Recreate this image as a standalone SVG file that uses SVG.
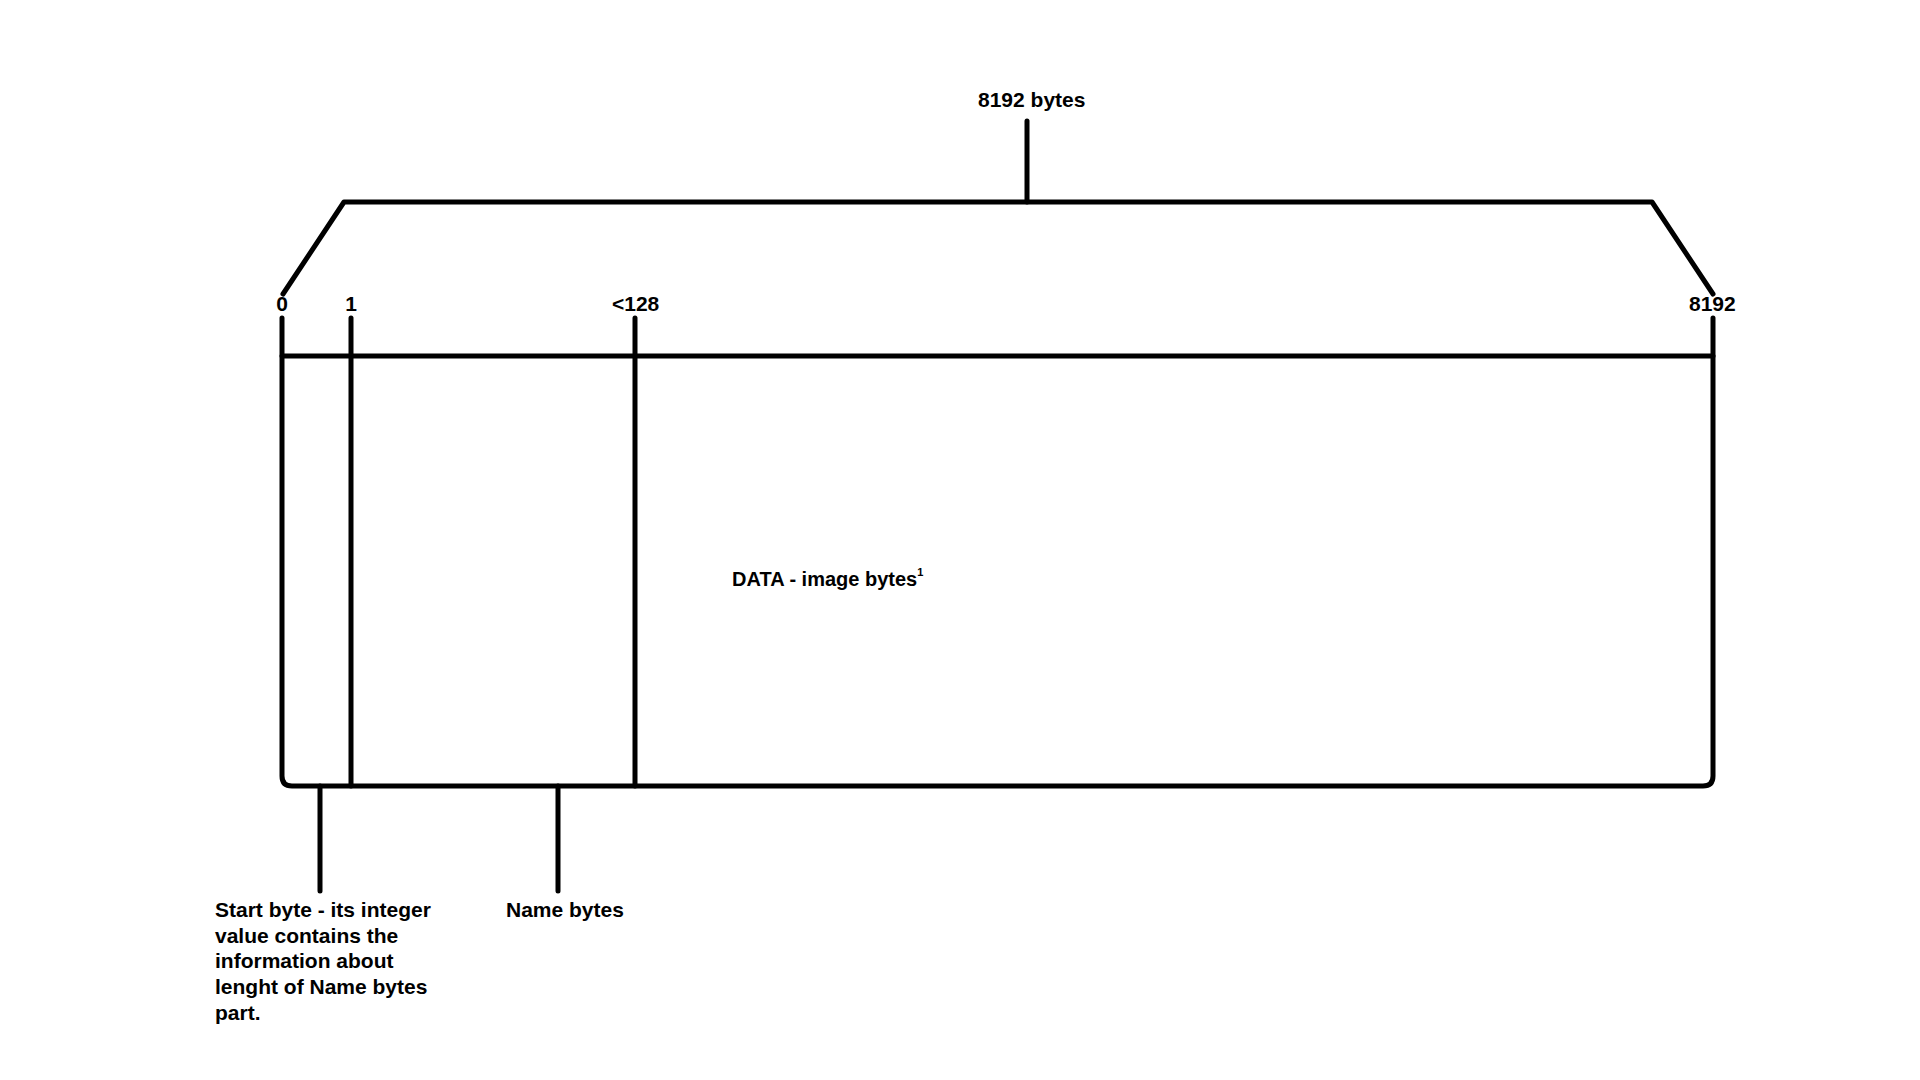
<svg xmlns="http://www.w3.org/2000/svg" width="1920" height="1080" viewBox="0 0 1920 1080">
<style>
.ln{fill:none;stroke:#000;stroke-width:5;stroke-linecap:round;stroke-linejoin:round}
.tx{font-family:"Liberation Sans",Arial,sans-serif;font-weight:bold;font-size:21px;fill:#000}
</style>
<rect width="1920" height="1080" fill="#fff"/>
<g id="connectors">
<path class="ln" d="M283,294 L344,202 L1652,202 L1713,294"/>
<path class="ln" d="M1027,121 L1027,202"/>
<path class="ln" d="M320,786 L320,891"/>
<path class="ln" d="M558,786 L558,891"/>
</g>
<g id="block">
<path class="ln" d="M282,318 L282,776 Q282,786 292,786 L1703,786 Q1713,786 1713,776 L1713,318"/>
<path class="ln" d="M282,356 L1713,356"/>
<path class="ln" d="M351,318 L351,786"/>
<path class="ln" d="M635,318 L635,786"/>
</g>
<g id="labels">
<text class="tx" x="978" y="107">8192 bytes</text>
<text class="tx" x="282" y="311" text-anchor="middle">0</text>
<text class="tx" x="351" y="311" text-anchor="middle">1</text>
<text class="tx" x="612" y="311">&lt;128</text>
<text class="tx" x="1689" y="311">8192</text>
<text class="tx" x="732" y="586" style="font-size:20px">DATA - image bytes<tspan dy="-10" style="font-size:11px">1</tspan></text>
<text class="tx" x="506" y="917">Name bytes</text>
<text class="tx" x="215" y="917">Start byte - its integer</text>
<text class="tx" x="215" y="943">value contains the</text>
<text class="tx" x="215" y="968">information about</text>
<text class="tx" x="215" y="994">lenght of Name bytes</text>
<text class="tx" x="215" y="1020">part.</text>
</g>
</svg>
